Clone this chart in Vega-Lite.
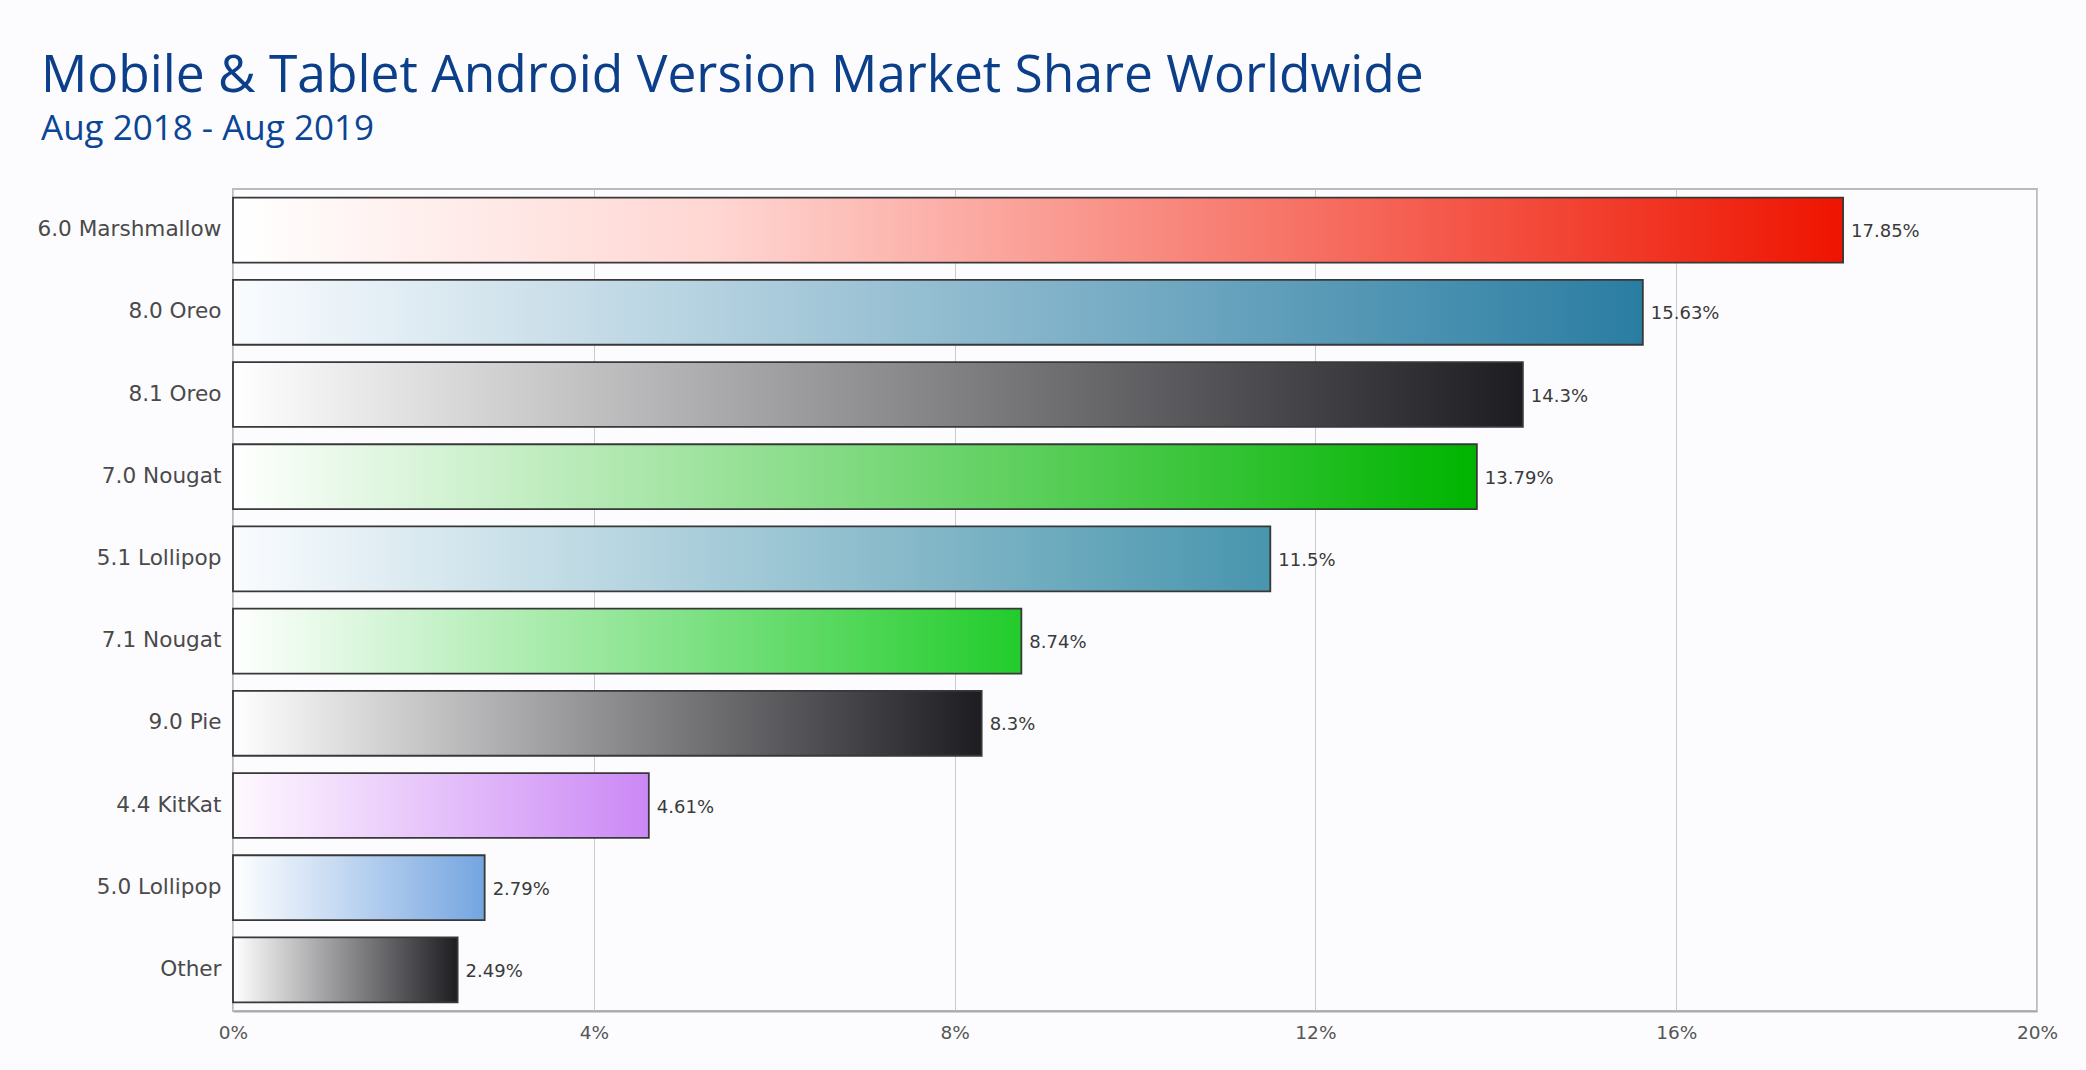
{
  "$schema": "https://vega.github.io/schema/vega-lite/v6.json",
  "autosize": {"type": "none"},
  "width": 1804,
  "height": 822,
  "padding": {"left": 233, "top": 189, "right": 49, "bottom": 59},
  "background": "#fcfcfe",
  "title": {
    "text": "Mobile & Tablet Android Version Market Share Worldwide",
    "subtitle": "Aug 2018 - Aug 2019",
    "anchor": "start",
    "frame": "group",
    "dx": -192,
    "offset": 42,
    "font": "Open Sans",
    "fontSize": 51.5,
    "fontWeight": "normal",
    "color": "#0b3f8a",
    "subtitleFont": "Open Sans",
    "subtitleFontSize": 35,
    "subtitleColor": "#0b4595",
    "subtitlePadding": 10
  },
  "data": {
    "values": [
      {"version": "6.0 Marshmallow", "share": 17.85},
      {"version": "8.0 Oreo", "share": 15.63},
      {"version": "8.1 Oreo", "share": 14.3},
      {"version": "7.0 Nougat", "share": 13.79},
      {"version": "5.1 Lollipop", "share": 11.5},
      {"version": "7.1 Nougat", "share": 8.74},
      {"version": "9.0 Pie", "share": 8.3},
      {"version": "4.4 KitKat", "share": 4.61},
      {"version": "5.0 Lollipop", "share": 2.79},
      {"version": "Other", "share": 2.49}
    ]
  },
  "transform": [{"calculate": "datum.share + '%'", "as": "label"}],
  "encoding": {
    "y": {
      "field": "version",
      "type": "nominal",
      "sort": null,
      "title": null,
      "scale": {"paddingInner": 0.21, "paddingOuter": 0.105},
      "axis": {
        "ticks": false,
        "domain": false,
        "grid": false,
        "labelFont": "DejaVu Sans",
        "labelFontSize": 21.6,
        "labelColor": "#4a4a4a",
        "labelPadding": 12,
        "labelLimit": 400
      }
    },
    "x": {
      "field": "share",
      "type": "quantitative",
      "title": null,
      "scale": {"domain": [0, 20], "nice": false},
      "axis": {
        "values": [0, 4, 8, 12, 16, 20],
        "labelExpr": "datum.value + '%'",
        "ticks": false,
        "domain": true,
        "domainColor": "#aaaaaa",
        "domainWidth": 2,
        "grid": true,
        "gridColor": "#cccccc",
        "gridWidth": 1,
        "labelFont": "DejaVu Sans",
        "labelFontSize": 18.5,
        "labelColor": "#555555",
        "labelPadding": 12,
        "labelFlush": false,
        "labelOverlap": false
      }
    }
  },
  "layer": [
    {
      "mark": {"type": "bar", "stroke": "#383838", "strokeWidth": 1.8},
      "encoding": {
        "fill": {
          "condition": [
            {"test": "datum.version === '6.0 Marshmallow'", "value": {"gradient": "linear", "x1": 0, "x2": 1, "y1": 0, "y2": 0, "stops": [{"offset": 0, "color": "#ffffff"}, {"offset": 0.3, "color": "#ffd6d2"}, {"offset": 1, "color": "#ee1400"}]}},
            {"test": "datum.version === '8.0 Oreo'", "value": {"gradient": "linear", "x1": 0, "x2": 1, "y1": 0, "y2": 0, "stops": [{"offset": 0, "color": "#fafcff"}, {"offset": 1, "color": "#2a7da2"}]}},
            {"test": "datum.version === '8.1 Oreo' || datum.version === '9.0 Pie' || datum.version === 'Other'", "value": {"gradient": "linear", "x1": 0, "x2": 1, "y1": 0, "y2": 0, "stops": [{"offset": 0, "color": "#ffffff"}, {"offset": 1, "color": "#1d1c21"}]}},
            {"test": "datum.version === '7.0 Nougat'", "value": {"gradient": "linear", "x1": 0, "x2": 1, "y1": 0, "y2": 0, "stops": [{"offset": 0, "color": "#ffffff"}, {"offset": 1, "color": "#00b400"}]}},
            {"test": "datum.version === '5.1 Lollipop'", "value": {"gradient": "linear", "x1": 0, "x2": 1, "y1": 0, "y2": 0, "stops": [{"offset": 0, "color": "#fafcff"}, {"offset": 1, "color": "#4895ad"}]}},
            {"test": "datum.version === '7.1 Nougat'", "value": {"gradient": "linear", "x1": 0, "x2": 1, "y1": 0, "y2": 0, "stops": [{"offset": 0, "color": "#ffffff"}, {"offset": 1, "color": "#22cc2c"}]}},
            {"test": "datum.version === '4.4 KitKat'", "value": {"gradient": "linear", "x1": 0, "x2": 1, "y1": 0, "y2": 0, "stops": [{"offset": 0, "color": "#fff9ff"}, {"offset": 1, "color": "#cb88f5"}]}},
            {"test": "datum.version === '5.0 Lollipop'", "value": {"gradient": "linear", "x1": 0, "x2": 1, "y1": 0, "y2": 0, "stops": [{"offset": 0, "color": "#ffffff"}, {"offset": 1, "color": "#74a5e0"}]}}
          ],
          "value": "#888888"
        }
      }
    },
    {
      "mark": {"type": "text", "align": "left", "baseline": "middle", "dx": 8, "dy": 2, "font": "DejaVu Sans", "fontSize": 18, "color": "#3a3a3a"},
      "encoding": {
        "text": {"field": "label", "type": "nominal"}
      }
    }
  ],
  "config": {
    "view": {"fill": "#fcfcfe", "stroke": "#bbbbbb", "strokeWidth": 2}
  }
}
